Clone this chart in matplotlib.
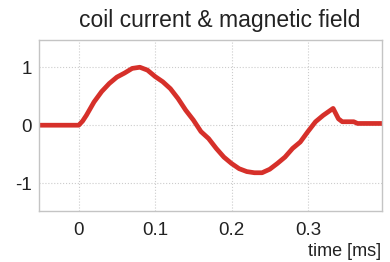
import matplotlib
matplotlib.use("Agg")
import matplotlib.pyplot as plt

# values
t_ms = [-0.052, 0.0, 0.005, 0.01, 0.02, 0.03, 0.04, 0.05, 0.06, 0.07, 0.08,
        0.09, 0.10, 0.11, 0.12, 0.13, 0.14, 0.15, 0.16, 0.17, 0.18, 0.19,
        0.20, 0.21, 0.22, 0.23, 0.24, 0.25, 0.26, 0.27, 0.28, 0.29, 0.30,
        0.31, 0.32, 0.333, 0.34, 0.345, 0.36, 0.365, 0.397]
field = [0.0, 0.0, 0.07, 0.17, 0.40, 0.58, 0.72, 0.83, 0.90, 0.98, 1.0,
         0.95, 0.84, 0.75, 0.63, 0.46, 0.26, 0.09, -0.11, -0.23, -0.40, -0.55,
         -0.66, -0.75, -0.80, -0.82, -0.82, -0.76, -0.66, -0.55, -0.40, -0.29, -0.11,
         0.06, 0.17, 0.29, 0.11, 0.06, 0.06, 0.03, 0.03]

xticks = [0, 0.1, 0.2, 0.3]
xtick_labels = ["0", "0.1", "0.2", "0.3"]
yticks = [-1, 0, 1]
ytick_labels = ["-1", "0", "1"]

plt.rcParams["font.family"] = ["Liberation Sans", "DejaVu Sans"]

fig = plt.figure(figsize=(3.9, 2.62), dpi=100)
ax = fig.add_axes([39 / 390, 1 - 211 / 262, (382 - 39) / 390, (211 - 40) / 262])

ax.plot(t_ms, field, color="#d6302a", lw=3.4, solid_capstyle="butt")

ax.set_xlim(-0.052, 0.397)
ax.set_ylim(-1.48, 1.47)
ax.set_xticks(xticks)
ax.set_xticklabels(xtick_labels)
ax.set_yticks(yticks)
ax.set_yticklabels(ytick_labels)
ax.tick_params(length=0, labelsize=13.5, colors="#222222")
ax.tick_params(axis="x", pad=8)
ax.tick_params(axis="y", pad=5)
ax.grid(True, color="#cccccc", linestyle=":", linewidth=0.8)
for s in ax.spines.values():
    s.set_color("#c4c4c4")
    s.set_linewidth(1.0)

fig.text(220 / 390, 1 - 21 / 262, "coil current & magnetic field",
         ha="center", va="center", fontsize=16.5, color="#222222")
fig.text(381 / 390, 1 - 252 / 262, "time [ms]", ha="right", va="center",
         fontsize=13, color="#222222")

fig.savefig("out.png", dpi=100)
